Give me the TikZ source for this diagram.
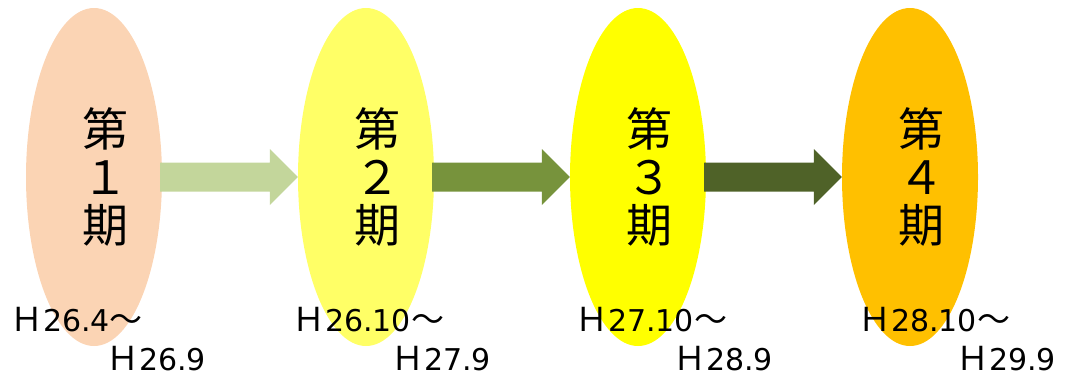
\documentclass[tikz,border=0pt]{standalone}
\usepackage{fontspec}
\newfontfamily\jp{Noto Sans CJK JP}
\newfontfamily\lat{DejaVu Sans}
\usetikzlibrary{shapes.geometric,calc}
\definecolor{cA}{HTML}{FBD4B4}
\definecolor{cB}{HTML}{FFFF66}
\definecolor{cC}{HTML}{FFFF00}
\definecolor{cD}{HTML}{FFC000}
\definecolor{aA}{HTML}{C3D69B}
\definecolor{aB}{HTML}{77933C}
\definecolor{aC}{HTML}{4F6228}
\tikzset{
  period/.style={ellipse, draw=none, minimum width=136pt, minimum height=338pt, inner sep=0pt},
  big/.style={anchor=base, inner sep=0pt, font=\jp\fontsize{46pt}{48pt}\selectfont},
  lab/.style={anchor=base west, inner sep=0pt, font=\jp\fontsize{33pt}{35pt}\selectfont}
}
\newcommand{\dg}[1]{{\lat\fontsize{30pt}{32pt}\selectfont #1}}
\newcommand{\fatarrow}[3]{%
  \fill[#3] ($(#1.east)+(-2,-14.5)$) -- ($(#2.west)+(-28,-14.5)$) -- ($(#2.west)+(-28,-28)$) -- (#2.west)
   -- ($(#2.west)+(-28,28)$) -- ($(#2.west)+(-28,14.5)$) -- ($(#1.east)+(-2,14.5)$) -- cycle;}
\begin{document}
\begin{tikzpicture}[x=1pt,y=-1pt]
\useasboundingbox (0,0) rectangle (1075,376);
\node[period, fill=cA] (e1) at (94,177) {};
\node[period, fill=cB] (e2) at (366,177) {};
\node[period, fill=cC] (e3) at (638,177) {};
\node[period, fill=cD] (e4) at (910,177) {};
\fatarrow{e1}{e2}{aA}
\fatarrow{e2}{e3}{aB}
\fatarrow{e3}{e4}{aC}
\foreach \i/\x/\d in {1/105/１,2/377/２,3/649/３,4/921/４}{
  \node[big] (d\i) at (\x,146) {第};
  \node[big] (n\i) at (\x,194) {\d};
  \node[big] (k\i) at (\x,242) {期};
}
\node[lab] (s1) at (10,331) {Ｈ\dg{26.4}～};
\node[lab] (f1) at (106,370) {Ｈ\dg{26.9}};
\node[lab] (s2) at (292,331) {Ｈ\dg{26.10}～};
\node[lab] (f2) at (391,370) {Ｈ\dg{27.9}};
\node[lab] (s3) at (575,331) {Ｈ\dg{27.10}～};
\node[lab] (f3) at (673,370) {Ｈ\dg{28.9}};
\node[lab] (s4) at (858,331) {Ｈ\dg{28.10}～};
\node[lab] (f4) at (956,370) {Ｈ\dg{29.9}};
\end{tikzpicture}
\end{document}
